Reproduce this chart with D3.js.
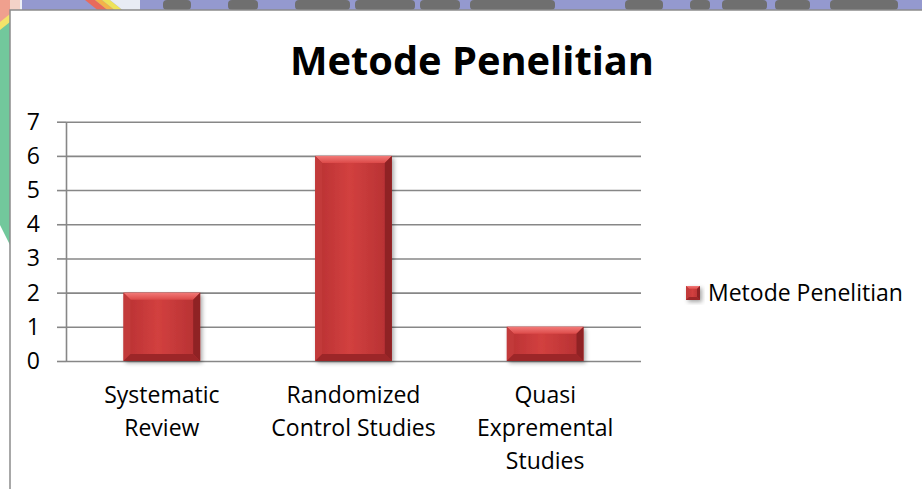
<!DOCTYPE html>
<html>
<head>
<meta charset="utf-8">
<script src="https://cdn.jsdelivr.net/npm/d3@7"></script>
<style>
  body { margin: 0; background: #fff; }
  svg { display: block; font-family: "Open Sans", sans-serif; }
</style>
</head>
<body>
<svg id="chart" width="922" height="489"></svg>
<script>
// data
var categories = ["Systematic Review", "Randomized Control Studies", "Quasi Expremental Studies"]
var categoryLines = [["Systematic", "Review"], ["Randomized", "Control Studies"], ["Quasi", "Expremental", "Studies"]]
var values = [2, 6, 1]
var yTicks = [0, 1, 2, 3, 4, 5, 6, 7]
var seriesName = "Metode Penelitian"
var chartTitle = "Metode Penelitian"

var svg = d3.select("#chart")

var plot = {left: 66, right: 641, top: 121.7, bottom: 361}

var drawBackground = function(svg) {
    // watermark strip behind the chart box
    var bg = svg.append("g").attr("class", "backdrop")
    bg.append("rect").attr("x", 0).attr("y", 0).attr("width", 922).attr("height", 12).attr("fill", "#eef0f6")
    bg.append("rect").attr("x", 22).attr("y", 0).attr("width", 900).attr("height", 12).attr("fill", "#9499cf")
    bg.append("path").attr("d", "M0,0 L20,0 L20,12 L0,12 Z").attr("fill", "#f3d2c8")
    bg.append("path").attr("d", "M85,0 L95,0 L110,12 L100,12 Z").attr("fill", "#e86a5c")
    bg.append("path").attr("d", "M95,0 L102,0 L117,12 L110,12 Z").attr("fill", "#f3b349")
    bg.append("path").attr("d", "M102,0 L110,0 L125,12 L117,12 Z").attr("fill", "#eee35a")
    bg.append("path").attr("d", "M110,0 L140,0 L140,12 L125,12 Z").attr("fill", "#e8ecf4")
    var blobs = [[163, 28], [228, 30], [295, 55], [355, 60], [420, 40], [470, 85], [625, 38], [690, 20], [722, 45], [775, 35], [830, 68]]
    bg.selectAll(".blob").data(blobs).enter().append("rect")
        .attr("class", "blob")
        .attr("x", function(d){ return d[0] })
        .attr("y", 0)
        .attr("width", function(d){ return d[1] })
        .attr("height", 10)
        .attr("rx", 4)
        .attr("fill", "#6f6f6f")
    // left side stripes
    bg.append("path").attr("d", "M0,0 L10,0 L10,22 L0,30 Z").attr("fill", "#f0a08e")
    bg.append("path").attr("d", "M0,22 L10,14 L10,26 L0,34 Z").attr("fill", "#f4e36a")
    bg.append("path").attr("d", "M0,30 L10,22 L10,245 L0,225 Z").attr("fill", "#72c89c")
}

var drawBox = function(svg) {
    svg.append("rect")
        .attr("x", 10).attr("y", 10)
        .attr("width", 940).attr("height", 500)
        .attr("fill", "#ffffff")
        .attr("stroke", "#8c8c8c")
        .attr("stroke-width", 1.5)
}

var drawDefs = function(svg) {
    var defs = svg.append("defs")
    var g = defs.append("linearGradient").attr("id", "barFace").attr("x1", 0).attr("x2", 1).attr("y1", 0).attr("y2", 0)
    g.append("stop").attr("offset", "0%").attr("stop-color", "#b83133")
    g.append("stop").attr("offset", "45%").attr("stop-color", "#d2403f")
    g.append("stop").attr("offset", "100%").attr("stop-color", "#b43032")
    var v = defs.append("linearGradient").attr("id", "barTop").attr("x1", 0).attr("x2", 0).attr("y1", 0).attr("y2", 1)
    v.append("stop").attr("offset", "0%").attr("stop-color", "#f27a78")
    v.append("stop").attr("offset", "100%").attr("stop-color", "#dc4a49")
    var f = defs.append("filter").attr("id", "shadow").attr("x", "-20%").attr("y", "-20%").attr("width", "150%").attr("height", "150%")
    f.append("feDropShadow").attr("dx", 2).attr("dy", 2).attr("stdDeviation", 2).attr("flood-color", "#000").attr("flood-opacity", 0.35)
}

var bevelBar = function(sel, x, y, w, h, b) {
    sel.append("rect").attr("x", x).attr("y", y).attr("width", w).attr("height", h)
        .attr("fill", "url(#barFace)").attr("filter", "url(#shadow)")
    // top, left, right, bottom bevels
    sel.append("path").attr("d", "M"+x+","+y+" L"+(x+w)+","+y+" L"+(x+w-b)+","+(y+b)+" L"+(x+b)+","+(y+b)+" Z").attr("fill", "url(#barTop)")
    sel.append("path").attr("d", "M"+x+","+y+" L"+(x+b)+","+(y+b)+" L"+(x+b)+","+(y+h-b)+" L"+x+","+(y+h)+" Z").attr("fill", "#c23a3a")
    sel.append("path").attr("d", "M"+(x+w)+","+y+" L"+(x+w)+","+(y+h)+" L"+(x+w-b)+","+(y+h-b)+" L"+(x+w-b)+","+(y+b)+" Z").attr("fill", "#8f2224")
    sel.append("path").attr("d", "M"+x+","+(y+h)+" L"+(x+b)+","+(y+h-b)+" L"+(x+w-b)+","+(y+h-b)+" L"+(x+w)+","+(y+h)+" Z").attr("fill", "#9c2628")
}

var drawAxes = function(svg, xScale, yScale) {
    var grid = d3.axisLeft(yScale).tickValues(yTicks).tickSize(-(plot.right - plot.left)).tickFormat("")
    var gg = svg.append("g").attr("class", "grid").attr("transform", "translate("+plot.left+",0)").call(grid)
    gg.select(".domain").remove()
    gg.selectAll("line").attr("stroke", "#878787").attr("stroke-width", 1.6)

    var yAxis = d3.axisLeft(yScale).tickValues(yTicks).tickFormat(d3.format("d"))
        .tickSizeInner(9).tickSizeOuter(0).tickPadding(17)
    var ya = svg.append("g").attr("class", "axis-y").attr("transform", "translate("+plot.left+",0)").call(yAxis)
    ya.select(".domain").attr("stroke", "#878787").attr("stroke-width", 1.6)
    ya.selectAll("line").attr("stroke", "#878787").attr("stroke-width", 1.6)
    ya.selectAll("text").style("font-size", "23px").style("font-family", "Open Sans").attr("fill", "#000")
}

var drawBars = function(svg, xScale, yScale) {
    var bars = svg.append("g").attr("class", "bars")
    categories.forEach(function(c, i) {
        var x = xScale(c), w = xScale.bandwidth()
        var y = yScale(values[i]), h = yScale(0) - yScale(values[i])
        bevelBar(bars.append("g"), x, y, w, h, 7)
    })
}

var drawCategoryLabels = function(svg, xScale) {
    var labels = svg.append("g").attr("class", "cat-labels")
    labels.selectAll("text")
        .data(categories)
        .enter()
        .append("text")
        .attr("text-anchor", "middle")
        .style("font-size", "23px")
        .attr("fill", "#000")
        .each(function(d, i) {
            var t = d3.select(this)
            var cx = xScale(d) + xScale.bandwidth() / 2
            categoryLines[i].forEach(function(line, j) {
                t.append("tspan").attr("x", cx).attr("y", 403 + j * 33).text(line)
            })
        })
}

var drawLegend = function(svg) {
    var lg = svg.append("g").attr("class", "legend")
    bevelBar(lg, 686, 286, 14, 14, 3)
    lg.append("text")
        .attr("x", 708).attr("y", 301)
        .style("font-size", "23px")
        .attr("fill", "#000")
        .text(seriesName)
}

var drawTitle = function(svg) {
    svg.append("text")
        .attr("x", 472).attr("y", 75)
        .attr("text-anchor", "middle")
        .style("font-size", "40px")
        .style("font-weight", "bold")
        .attr("textLength", 364)
        .attr("lengthAdjust", "spacingAndGlyphs")
        .attr("fill", "#000")
        .text(chartTitle)
}

var initGraph = function() {
    var xScale = d3.scaleBand()
        .domain(categories)
        .range([plot.left, plot.right])
        .paddingInner(0.6)
        .paddingOuter(0.3)

    var yScale = d3.scaleLinear()
        .domain([0, 7])
        .range([plot.bottom, plot.top])

    drawBackground(svg)
    drawBox(svg)
    drawDefs(svg)
    drawTitle(svg)
    drawAxes(svg, xScale, yScale)
    drawBars(svg, xScale, yScale)
    drawCategoryLabels(svg, xScale)
    drawLegend(svg)
}

initGraph()
</script>
</body>
</html>
